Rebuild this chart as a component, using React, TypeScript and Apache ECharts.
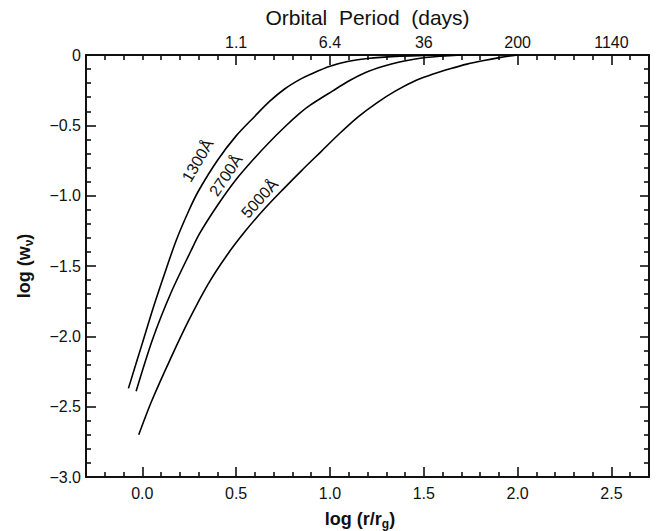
import { useEffect, useRef } from "react";
import * as echarts from "echarts";

// log(r/rg) and log(w_nu) for each wavelength curve
const logR1300 = [-0.074, 0.0, 0.06, 0.12, 0.18, 0.25, 0.3, 0.4, 0.5, 0.6, 0.678, 0.76, 0.838, 0.9, 1.0, 1.1, 1.2, 1.35, 1.5, 1.65];
const logW1300 = [-2.37, -2.05, -1.79, -1.55, -1.32, -1.1, -0.965, -0.75, -0.575, -0.435, -0.33, -0.24, -0.175, -0.135, -0.08, -0.045, -0.025, -0.01, -0.004, 0];

const logR2700 = [-0.033, 0.055, 0.153, 0.26, 0.305, 0.4, 0.5, 0.6, 0.677, 0.76, 0.838, 0.891, 1.015, 1.1, 1.19, 1.28, 1.37, 1.51, 1.7];
const logW2700 = [-2.39, -2.02, -1.69, -1.39, -1.27, -1.07, -0.885, -0.73, -0.62, -0.51, -0.415, -0.36, -0.255, -0.185, -0.125, -0.082, -0.05, -0.018, 0];

const logR5000 = [-0.019, 0.05, 0.15, 0.25, 0.35, 0.45, 0.55, 0.65, 0.75, 0.85, 0.95, 1.05, 1.15, 1.25, 1.35, 1.46, 1.55, 1.64, 1.73, 1.82, 1.91, 2.0];
const logW5000 = [-2.7, -2.46, -2.16, -1.88, -1.63, -1.425, -1.25, -1.095, -0.955, -0.82, -0.69, -0.56, -0.44, -0.34, -0.255, -0.18, -0.135, -0.098, -0.065, -0.039, -0.017, 0];

const bottomTickValues = [0, 0.5, 1.0, 1.5, 2.0, 2.5];
const topTickValues = [0.5, 1.0, 1.5, 2.0, 2.5];
const periodLabels = ["1.1", "6.4", "36", "200", "1140"];
const yTickValues = [-3, -2.5, -2, -1.5, -1, -0.5, 0];

const curveLabels = ["1300Å", "2700Å", "5000Å"];
const labelLogR = [0.295, 0.445, 0.625];
const labelLogW = [-0.75, -0.855, -1.02];
const labelAngle = [60, 56, 48];

const X_MIN = -0.3;
const X_MAX = 2.7;
const Y_MIN = -3;
const Y_MAX = 0;

const FONT = "Liberation Sans, Arial, sans-serif";

function zip(a: number[], b: number[]) {
  return a.map((v, i) => [v, b[i]]);
}

function minorValues(min: number, max: number, step: number, majors: number[]) {
  const out: number[] = [];
  const n = Math.round((max - min) / step);
  for (let i = 1; i < n; i++) {
    const v = Math.round((min + i * step) * 1000) / 1000;
    if (!majors.some((m) => Math.abs(m - v) < 1e-6)) out.push(v);
  }
  return out;
}

export default function App() {
  const ref = useRef<HTMLDivElement>(null);

  useEffect(() => {
    if (!ref.current) return;
    const chart = echarts.init(ref.current, undefined, { renderer: "svg" });

    const xMinorBottom = minorValues(X_MIN, X_MAX, 0.1, bottomTickValues);
    const xMinorTop = minorValues(X_MIN, X_MAX, 0.1, topTickValues);
    const yMinor = minorValues(Y_MIN, Y_MAX, 0.1, yTickValues);

    const lineCol = "#111";
    const axisLine = { show: true, onZero: false, lineStyle: { color: lineCol, width: 2 } };
    const noLine = { show: false, onZero: false };
    const tick = (len: number, values: number[]) => ({
      show: true,
      inside: false,
      length: -len,
      customValues: values,
      lineStyle: { color: lineCol, width: 1.6 },
    });

    const xBase = (position: string) => ({
      type: "value",
      min: X_MIN,
      max: X_MAX,
      position,
      offset: 0,
      splitLine: { show: false },
    });
    const yBase = (position: string) => ({
      type: "value",
      min: Y_MIN,
      max: Y_MAX,
      position,
      offset: 0,
      splitLine: { show: false },
    });

    chart.setOption({
      animation: false,
      backgroundColor: "#fff",
      grid: { left: 86, top: 55, width: 563, height: 422, containLabel: false },
      xAxis: [
        {
          ...xBase("bottom"),
          axisLine,
          axisTick: tick(10, bottomTickValues),
          axisLabel: {
            show: true,
            customValues: bottomTickValues,
            formatter: (v: number) => v.toFixed(1),
            fontFamily: FONT,
            fontSize: 16,
            color: "#111",
            margin: 8,
          },
        },
        {
          ...xBase("bottom"),
          axisLine: noLine,
          axisTick: tick(5, xMinorBottom),
          axisLabel: { show: false },
        },
        {
          ...xBase("top"),
          axisLine,
          axisTick: tick(10, topTickValues),
          axisLabel: {
            show: true,
            customValues: topTickValues,
            formatter: (v: number) => {
              const i = topTickValues.findIndex((t) => Math.abs(t - v) < 1e-6);
              return i >= 0 ? periodLabels[i] : "";
            },
            fontFamily: FONT,
            fontSize: 16,
            color: "#111",
            margin: 5,
          },
        },
        {
          ...xBase("top"),
          axisLine: noLine,
          axisTick: tick(5, xMinorTop),
          axisLabel: { show: false },
        },
      ],
      yAxis: [
        {
          ...yBase("left"),
          axisLine,
          axisTick: tick(10, yTickValues),
          axisLabel: {
            show: true,
            customValues: yTickValues,
            formatter: (v: number) => (Math.abs(v) < 1e-9 ? "0" : "\u2212" + Math.abs(v).toFixed(1)),
            fontFamily: FONT,
            fontSize: 16,
            color: "#111",
            margin: 5,
          },
        },
        {
          ...yBase("left"),
          axisLine: noLine,
          axisTick: tick(5, yMinor),
          axisLabel: { show: false },
        },
        {
          ...yBase("right"),
          axisLine,
          axisTick: tick(9, yTickValues),
          axisLabel: { show: false },
        },
        {
          ...yBase("right"),
          axisLine: noLine,
          axisTick: tick(5, yMinor),
          axisLabel: { show: false },
        },
      ],
      series: [
        { name: "1300Å", data: zip(logR1300, logW1300) },
        { name: "2700Å", data: zip(logR2700, logW2700) },
        { name: "5000Å", data: zip(logR5000, logW5000) },
      ].map((s) => ({
        ...s,
        type: "line",
        xAxisIndex: 0,
        yAxisIndex: 0,
        smooth: 0.3,
        showSymbol: false,
        lineStyle: { color: "#000", width: 1.6 },
      })),
    });

    const graphics: any[] = [
      {
        type: "text",
        x: 86 + 563 / 2,
        y: 17,
        style: {
          text: "Orbital  Period  (days)",
          font: `21px ${FONT}`,
          fill: "#111",
          align: "center",
          verticalAlign: "middle",
        },
      },
      {
        type: "text",
        x: 360,
        y: 519,
        style: {
          text: "{a|log (r/r}{s|g}{a|)}",
          align: "center",
          verticalAlign: "middle",
          rich: {
            a: { fontFamily: FONT, fontSize: 18, fontWeight: "bold", fill: "#111", lineHeight: 20 },
            s: { fontFamily: FONT, fontSize: 12, fontWeight: "bold", fill: "#111", lineHeight: 20, padding: [9, 0, 0, 0] },
          },
        },
      },
      {
        type: "text",
        x: 24,
        y: 266,
        rotation: Math.PI / 2,
        style: {
          text: "{a|log (w}{s|ν}{a|)}",
          align: "center",
          verticalAlign: "middle",
          rich: {
            a: { fontFamily: FONT, fontSize: 18, fontWeight: "bold", fill: "#111", lineHeight: 20 },
            s: { fontFamily: FONT, fontSize: 12, fontWeight: "bold", fill: "#111", lineHeight: 20, padding: [9, 0, 0, 0] },
          },
        },
      },
    ];

    curveLabels.forEach((t, i) => {
      const p = chart.convertToPixel({ gridIndex: 0 }, [labelLogR[i], labelLogW[i]]) as number[];
      graphics.push({
        type: "text",
        x: p[0],
        y: p[1],
        rotation: (labelAngle[i] * Math.PI) / 180,
        style: {
          text: t,
          font: `16px ${FONT}`,
          fill: "#111",
          align: "center",
          verticalAlign: "middle",
        },
      });
    });

    chart.setOption({ graphic: graphics });

    return () => chart.dispose();
  }, []);

  return (
    <div
      ref={ref}
      style={{ position: "fixed", left: 0, top: 0, width: 656, height: 531, background: "#fff" }}
    />
  );
}
